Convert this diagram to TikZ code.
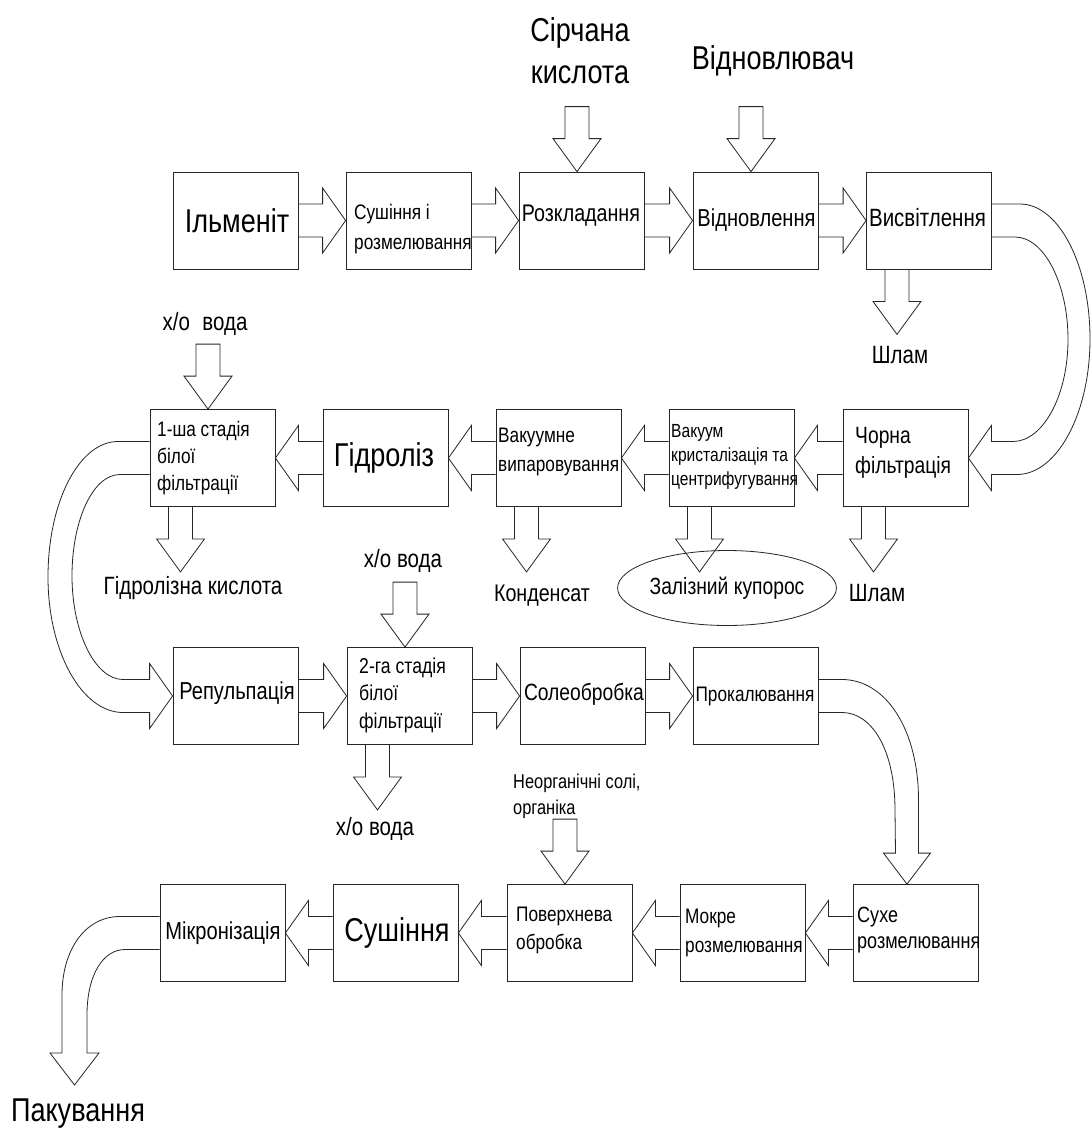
\documentclass[tikz,border=0pt]{standalone}
\usepackage{fontspec}
\setmainfont{Liberation Sans}[FakeStretch=0.82]
\usetikzlibrary{calc,shapes.geometric}
\newcommand\myfs[2]{\fontsize{#1}{#2}\selectfont}
\newcommand\myrarrow[2]{\draw[blk] ($(#1.east)+(0,-16.5)$) -- ($(#2.west)+(-23,-16.5)$) -- ($(#2.west)+(-23,-32.5)$) -- (#2.west) -- ($(#2.west)+(-23,32.5)$) -- ($(#2.west)+(-23,16.5)$) -- ($(#1.east)+(0,16.5)$);}
\newcommand\mylarrow[2]{\draw[blk] ($(#1.west)+(0,-16.5)$) -- ($(#2.east)+(23,-16.5)$) -- ($(#2.east)+(23,-32.5)$) -- (#2.east) -- ($(#2.east)+(23,32.5)$) -- ($(#2.east)+(23,16.5)$) -- ($(#1.west)+(0,16.5)$);}
\newcommand\myinarrow[1]{\coordinate (tip) at ($(#1.north)+(-4.5,0)$);
 \draw[blk] ($(tip)+(-12,-33)$) -- ($(tip)+(-12,-65)$) -- ($(tip)+(12,-65)$) -- ($(tip)+(12,-33)$) -- ($(tip)+(24,-33)$) -- (tip) -- ($(tip)+(-24,-33)$) -- cycle;}
\newcommand\myoutarrow[1]{\coordinate (base) at ($(#1.south)+(-32,0)$);
 \draw[blk] ($(base)+(-12,0)$) -- ($(base)+(-12,32)$) -- ($(base)+(-24,32)$) -- ($(base)+(0,65)$) -- ($(base)+(24,32)$) -- ($(base)+(12,32)$) -- ($(base)+(12,0)$);}
\begin{document}
\begin{tikzpicture}[x=1pt,y=-1pt,
  box/.style={draw=black!85, line width=0.8pt, minimum width=125pt, minimum height=97pt, inner sep=0pt},
  blk/.style={draw=black!85, line width=0.8pt, line join=miter},
  txt/.style={inner sep=0pt, align=left, anchor=west},
  ctxt/.style={inner sep=0pt, align=center}]
\useasboundingbox (0,0) rectangle (1091,1133);
\fill[white] (0,0) rectangle (1091,1133);

% ---------- boxes ----------
\node[box] (ilm)   at (235.5,220.5) {};
\node[box] (sush)  at (408.5,220.5) {};
\node[box] (rozk)  at (581.5,220.5) {};
\node[box] (vidn)  at (755.5,220.5) {};
\node[box] (vysv)  at (929,220.5) {};

\node[box] (fil1)  at (212.5,458) {};
\node[box] (hidr)  at (385.5,458) {};
\node[box] (vakv)  at (558.5,458) {};
\node[box] (vakk)  at (731.5,458) {};
\node[box] (chor)  at (905.5,458) {};

\node[box] (rep)   at (235.5,696) {};
\node[box] (fil2)  at (409.5,696) {};
\node[box] (sole)  at (582.5,696) {};
\node[box] (prok)  at (755.5,696) {};

\node[box] (mikr)  at (222.5,933) {};
\node[box] (sush2) at (395.5,933) {};
\node[box] (pov)   at (569.5,933) {};
\node[box] (mokr)  at (742.5,933) {};
\node[box] (suhe)  at (915.5,933) {};

% ---------- box texts ----------
\node[ctxt, font=\myfs{33}{38}] (ilm-t) at (237,221) {Ільменіт};
\node[txt, font=\myfs{21}{30}] (sush-t) at (354,229) {Сушіння і\\розмелювання};
\node[ctxt, font=\myfs{24}{28}] (rozk-t) at (581,216) {Розкладання};
\node[ctxt, font=\myfs{24.5}{28}] (vidn-t) at (756.5,220) {Відновлення};
\node[ctxt, font=\myfs{25}{28}] (vysv-t) at (927.5,218) {Висвітлення};

\node[txt, font=\myfs{21}{27}] (fil1-t) at (157,458) {1-ша стадія\\білої\\фільтрації};
\node[ctxt, font=\myfs{33}{38}] (hidr-t) at (384,458) {Гідроліз};
\node[txt, font=\myfs{21}{29}] (vakv-t) at (498,452) {Вакуумне\\випаровування};
\node[txt, font=\myfs{19}{24}] (vakk-t) at (671,457) {Вакуум\\кристалізація та\\центрифугування};
\node[txt, font=\myfs{23.5}{30}] (chor-t) at (855,453) {Чорна\\фільтрація};

\node[ctxt, font=\myfs{24.5}{28}] (rep-t) at (237,693) {Репульпація};
\node[txt, font=\myfs{21.5}{27.5}] (fil2-t) at (359,695) {2-га стадія\\білої\\фільтрації};
\node[ctxt, font=\myfs{23.5}{28}] (sole-t) at (584,694) {Солеобробка};
\node[ctxt, font=\myfs{21}{26}] (prok-t) at (755,696) {Прокалювання};

\node[ctxt, font=\myfs{24.5}{28}] (mikr-t) at (223,933) {Мікронізація};
\node[ctxt, font=\myfs{33}{38}] (sush2-t) at (397,933) {Сушіння};
\node[txt, font=\myfs{21}{28}] (pov-t) at (516,930) {Поверхнева\\обробка};
\node[txt, font=\myfs{21}{29}] (mokr-t) at (685,933) {Мокре\\розмелювання};
\node[txt, font=\myfs{22}{26}] (suhe-t) at (857,930) {Сухе\\розмелювання};

% ---------- outside labels ----------
\node[ctxt, font=\myfs{33}{42}] (acid) at (580,51) {Сірчана\\кислота};
\node[ctxt, font=\myfs{33}{40}] (redu) at (773,61) {Відновлювач};
\node[ctxt, font=\myfs{25}{28}] (slam1) at (900,355) {Шлам};
\node[ctxt, font=\myfs{25}{28}] (xo1) at (205,324) {х/о\hspace{0.5em}вода};
\node[ctxt, font=\myfs{25}{28}] (hkis) at (193,588) {Гідролізна кислота};
\node[ctxt, font=\myfs{24}{28}] (kond) at (542,596) {Конденсат};
\node[draw=black!85, line width=0.8pt, ellipse, minimum width=182pt, minimum height=75pt, inner sep=0pt, font=\myfs{23.5}{28}] (kup) at (727,588) {Залізний купорос};
\node[ctxt, font=\myfs{25}{28}] (slam2) at (877,593) {Шлам};
\node[ctxt, font=\myfs{25}{28}] (xo2) at (403,561) {х/о вода};
\node[ctxt, font=\myfs{25}{28}] (xo3) at (375,829) {х/о вода};
\node[txt, font=\myfs{20}{26}] (neorg) at (513,796) {Неорганічні солі,\\органіка};
\node[ctxt, font=\myfs{33}{38}] (pak) at (78,1114) {Пакування};

% ---------- straight block arrows ----------
\myrarrow{ilm}{sush}
\myrarrow{sush}{rozk}
\myrarrow{rozk}{vidn}
\myrarrow{vidn}{vysv}

\mylarrow{chor}{vakk}
\mylarrow{vakk}{vakv}
\mylarrow{vakv}{hidr}
\mylarrow{hidr}{fil1}

\myrarrow{rep}{fil2}
\myrarrow{fil2}{sole}
\myrarrow{sole}{prok}

\mylarrow{suhe}{mokr}
\mylarrow{mokr}{pov}
\mylarrow{pov}{sush2}
\mylarrow{sush2}{mikr}

% inputs from above
\myinarrow{rozk}
\myinarrow{vidn}
\myinarrow{fil1}
\myinarrow{fil2}
\myinarrow{pov}

% outputs below
\myoutarrow{vysv}
\myoutarrow{fil1}
\myoutarrow{vakv}
\myoutarrow{vakk}
\myoutarrow{chor}
\myoutarrow{fil2}

% ---------- curved block arrows ----------
% Висвітлення -> Чорна фільтрація
\draw[blk] ($(vysv.east)+(0,-16.5)$) -- (1020,204) .. controls (1058.6,204) and (1090,264.5) .. (1090,339)
  .. controls (1090,413.5) and (1057,474.5) .. (1017,474.5)
  -- ($(chor.east)+(23,16.5)$) -- ($(chor.east)+(23,32.5)$) -- (chor.east) -- ($(chor.east)+(23,-32.5)$) -- ($(chor.east)+(23,-16.5)$)
  -- (1013,441.5) .. controls (1043,441.5) and (1068,395.5) .. (1068,339.5)
  .. controls (1068,283.5) and (1044,237) .. (1015,237) -- ($(vysv.east)+(0,16.5)$);

% 1-ша стадія -> Репульпація
\draw[blk] ($(fil1.west)+(0,-16.5)$) -- (118,441.5) .. controls (79,441.5) and (48,502) .. (48,577)
  .. controls (48,652) and (82,712.5) .. (123,712.5)
  -- ($(rep.west)+(-23,16.5)$) -- ($(rep.west)+(-23,32.5)$) -- (rep.west) -- ($(rep.west)+(-23,-32.5)$) -- ($(rep.west)+(-23,-16.5)$)
  -- (123,679.5) .. controls (95,679.5) and (72,632) .. (72,576)
  .. controls (72,520) and (93,474.5) .. (120,474.5) -- ($(fil1.west)+(0,16.5)$);

% Прокалювання -> Сухе розмелювання
\coordinate (ps) at ($(suhe.north)+(-8.5,0)$);
\draw[blk] ($(prok.east)+(0,-16.5)$) -- (842,679.5) .. controls (886,679.5) and (918.5,730) .. (918.5,800)
  -- ($(ps)+(11.5,-31)$) -- ($(ps)+(23.5,-31)$) -- (ps) -- ($(ps)+(-23.5,-31)$) -- ($(ps)+(-11.5,-31)$)
  -- (895,810) .. controls (895,750) and (872,712.5) .. (842,712.5) -- ($(prok.east)+(0,16.5)$);

% Мікронізація -> Пакування
\coordinate (pk) at (74.5,1085);
\draw[blk] ($(mikr.west)+(0,-16.5)$) -- (120,916.5) .. controls (85,916.5) and (62,950) .. (62,995)
  -- ($(pk)+(-12.5,-32)$) -- ($(pk)+(-24.5,-32)$) -- (pk) -- ($(pk)+(24.5,-32)$) -- ($(pk)+(12.5,-32)$)
  -- (87,1015) .. controls (87,975) and (103,949.5) .. (125,949.5) -- ($(mikr.west)+(0,16.5)$);
\end{tikzpicture}
\end{document}
